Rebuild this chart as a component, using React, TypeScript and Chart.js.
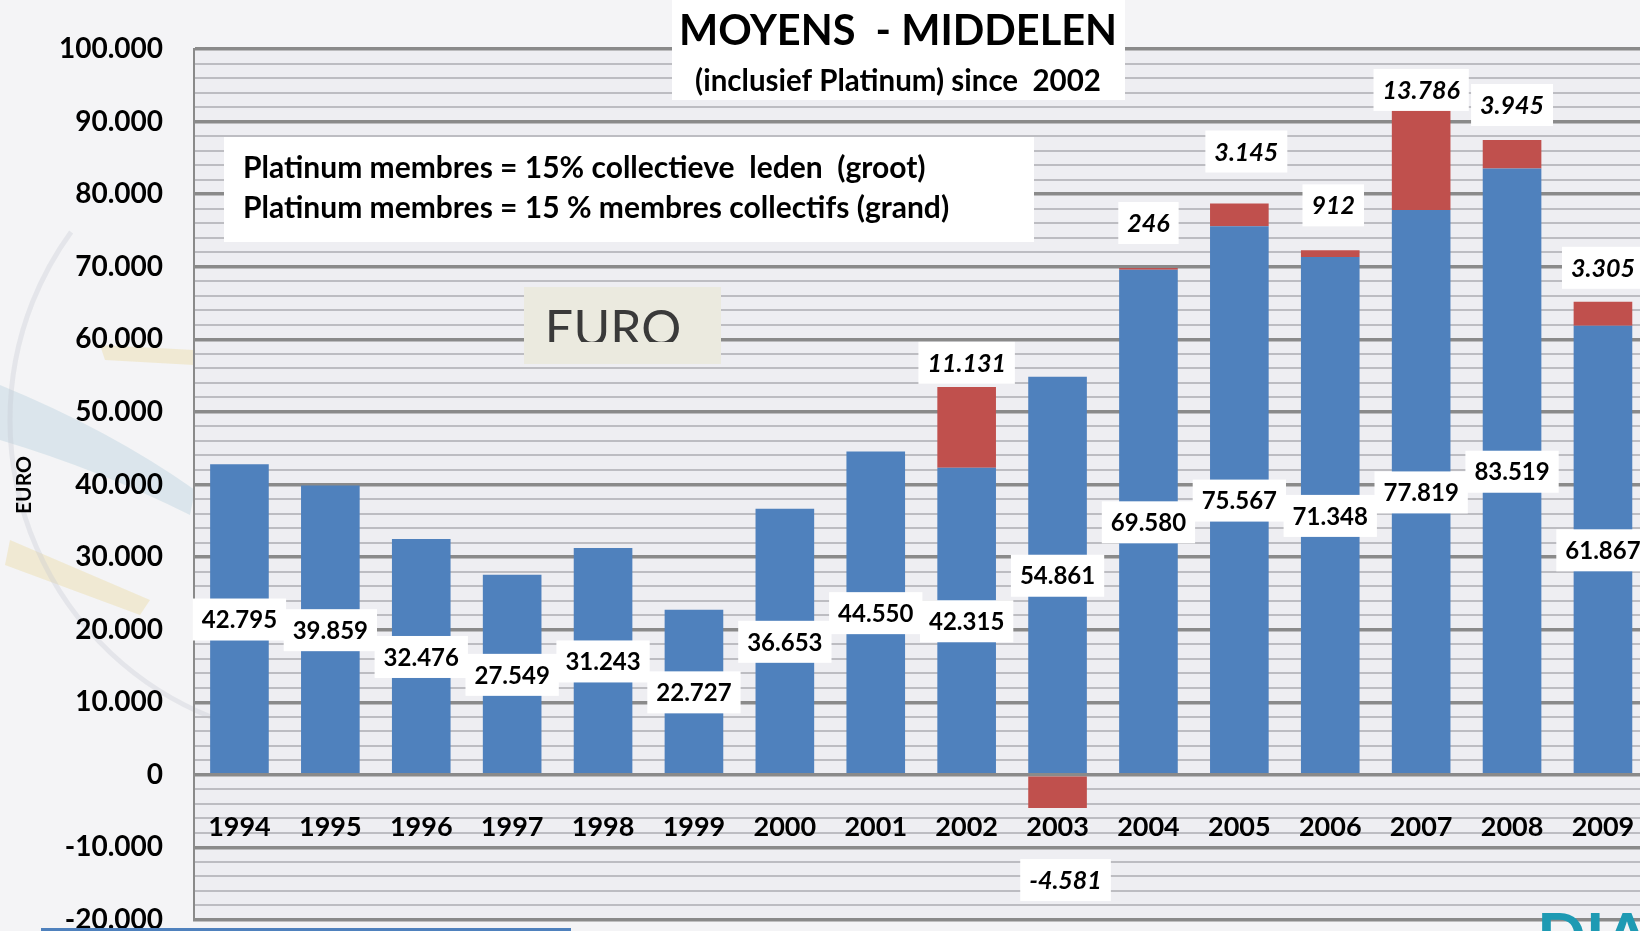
import React, { useEffect, useRef } from 'react';
import { Chart, registerables } from 'chart.js';

Chart.register(...registerables);

// ---------- data ----------
const years = ['1994', '1995', '1996', '1997', '1998', '1999', '2000', '2001', '2002', '2003', '2004', '2005', '2006', '2007', '2008', '2009'];
const middelen = [42795, 39859, 32476, 27549, 31243, 22727, 36653, 44550, 42315, 54861, 69580, 75567, 71348, 77819, 83519, 61867];
const platinum = [null, null, null, null, null, null, null, null, 11131, -4581, 246, 3145, 912, 13786, 3945, 3305];
const yTickValues = [100000, 90000, 80000, 70000, 60000, 50000, 40000, 30000, 20000, 10000, 0, -10000, -20000];
const yTickLabels = ['100.000', '90.000', '80.000', '70.000', '60.000', '50.000', '40.000', '30.000', '20.000', '10.000', '0', '-10.000', '-20.000'];
const titleText = 'MOYENS  - MIDDELEN';
const subtitleText = '(inclusief Platinum) since  2002';
const noteLines = ['Platinum membres = 15% collectieve  leden  (groot)', 'Platinum membres = 15 % membres collectifs (grand)'];
const boxWord = 'EURO';
const axisTitle = 'EURO';
const logoText = 'DIA';

// label placement styling (px offsets of the platinum labels from the bar end)
const platinumLift = [0, 0, 0, 0, 0, 0, 0, 0, 24, 72, 45, 52, 45, 20, 35, 34];
const platinumShift = [0, 0, 0, 0, 0, 0, 0, 0, 0, 8, 0, 7, 3, 0, 0, 0];

const CANVAS_W = 1660;
const CANVAS_H = 931;
const FONT = 'Lato, "Open Sans", "DejaVu Sans", sans-serif';
const BLUE = '#4f81bd';
const RED = '#c0504d';

function fmt(n: number): string {
  const s = Math.abs(Math.round(n)).toString().replace(/\B(?=(\d{3})+(?!\d))/g, '.');
  return (n < 0 ? '-' : '') + s;
}

function boxedText(ctx: CanvasRenderingContext2D, text: string, cx: number, cy: number, font: string) {
  ctx.font = font;
  const w = ctx.measureText(text).width;
  ctx.fillStyle = '#ffffff';
  ctx.fillRect(cx - w / 2 - 9, cy - 21, w + 18, 42);
  ctx.fillStyle = '#000000';
  ctx.textAlign = 'center';
  ctx.textBaseline = 'middle';
  ctx.fillText(text, cx, cy + 1);
}

const decorPlugin = {
  id: 'decor',
  beforeDraw(chart: any) {
    const { ctx, width, height, chartArea } = chart;
    ctx.save();
    ctx.fillStyle = '#f4f4f6';
    ctx.fillRect(0, 0, width, height);
    ctx.fillStyle = '#eeeef2';
    ctx.fillRect(chartArea.left, chartArea.top, chartArea.right - chartArea.left, chartArea.bottom - chartArea.top);
    // faint background artwork on the left
    ctx.globalAlpha = 0.32;
    ctx.fillStyle = '#a9c8d8';
    ctx.beginPath();
    ctx.moveTo(0, 385); ctx.quadraticCurveTo(110, 430, 195, 490); ctx.lineTo(190, 515); ctx.quadraticCurveTo(100, 470, 0, 440); ctx.closePath();
    ctx.fill();
    ctx.fillStyle = '#e8d48a';
    ctx.beginPath();
    ctx.moveTo(10, 540); ctx.lineTo(150, 600); ctx.lineTo(140, 615); ctx.lineTo(5, 565); ctx.closePath();
    ctx.fill();
    ctx.beginPath();
    ctx.moveTo(100, 345); ctx.lineTo(194, 350); ctx.lineTo(194, 365); ctx.lineTo(105, 360); ctx.closePath();
    ctx.fill();
    ctx.strokeStyle = '#c4c7d0';
    ctx.lineWidth = 5;
    ctx.beginPath();
    ctx.arc(330, 420, 320, Math.PI * 0.62, Math.PI * 1.2);
    ctx.stroke();
    ctx.restore();
  },
  beforeDatasetsDraw(chart: any) {
    const ctx: CanvasRenderingContext2D = chart.ctx;
    ctx.save();
    // white title panel
    ctx.fillStyle = '#ffffff';
    ctx.fillRect(672, 0, 453, 100);
    // note panel
    ctx.fillRect(224, 137, 810, 105);
    // EURO panel
    ctx.fillStyle = '#ebeadf';
    ctx.fillRect(524, 287, 197, 77);
    ctx.save();
    ctx.beginPath();
    ctx.rect(524, 287, 197, 55);
    ctx.clip();
    ctx.fillStyle = '#3a3a3a';
    ctx.font = `400 50px ${FONT}`;
    ctx.textAlign = 'center';
    ctx.textBaseline = 'alphabetic';
    ctx.fillText(boxWord, 613, 346);
    ctx.restore();

    ctx.fillStyle = '#000000';
    ctx.textAlign = 'center';
    ctx.textBaseline = 'middle';
    ctx.font = `700 41.5px ${FONT}`;
    ctx.fillText(titleText, 898, 32);
    ctx.font = `700 29.5px ${FONT}`;
    ctx.fillText(subtitleText, 898, 81);

    ctx.textAlign = 'left';
    ctx.font = `700 30px ${FONT}`;
    ctx.fillText(noteLines[0], 243, 168);
    ctx.fillText(noteLines[1], 243, 208);
    ctx.restore();
  },
  afterDatasetsDraw(chart: any) {
    const ctx: CanvasRenderingContext2D = chart.ctx;
    const xs = chart.scales.x;
    const ys = chart.scales.y;
    ctx.save();
    // category labels inside the plot
    ctx.fillStyle = '#000000';
    ctx.textAlign = 'center';
    ctx.textBaseline = 'middle';
    ctx.font = `700 27px ${FONT}`;
    years.forEach((y, i) => {
      ctx.fillText(y, xs.getPixelForValue(i), ys.getPixelForValue(-7200));
    });
    // value labels of the blue series
    middelen.forEach((v, i) => {
      boxedText(ctx, fmt(v), xs.getPixelForValue(i), ys.getPixelForValue(v / 2), `700 24px ${FONT}`);
    });
    // platinum labels
    platinum.forEach((v, i) => {
      if (v === null) return;
      const end = v >= 0 ? ys.getPixelForValue(middelen[i] + v) : ys.getPixelForValue(v);
      const cy = v >= 0 ? end - platinumLift[i] : end + platinumLift[i];
      boxedText(ctx, fmt(v), xs.getPixelForValue(i) + platinumShift[i], cy, `italic 700 25px ${FONT}`);
    });
    // y axis title
    ctx.save();
    ctx.translate(24, 485);
    ctx.rotate(-Math.PI / 2);
    ctx.font = `700 21px ${FONT}`;
    ctx.fillStyle = '#000000';
    ctx.textAlign = 'center';
    ctx.textBaseline = 'middle';
    ctx.fillText(axisTitle, 0, 0);
    ctx.restore();
    // bottom decorations
    ctx.fillStyle = BLUE;
    ctx.fillRect(41, 928, 530, 3);
    ctx.fillStyle = '#1e9ab3';
    ctx.font = `700 64px ${FONT}`;
    ctx.textAlign = 'left';
    ctx.textBaseline = 'alphabetic';
    ctx.fillText(logoText, 1537, 959);
    ctx.restore();
  },
};

export default function App() {
  const canvasRef = useRef<HTMLCanvasElement | null>(null);

  useEffect(() => {
    const canvas = canvasRef.current;
    if (!canvas) return;
    const chart = new Chart(canvas, {
      type: 'bar',
      data: {
        labels: years,
        datasets: [
          { label: 'Middelen', data: middelen, backgroundColor: BLUE, barPercentage: 0.645, categoryPercentage: 1 },
          { label: 'Platinum', data: platinum as any, backgroundColor: RED, barPercentage: 0.645, categoryPercentage: 1 },
        ],
      },
      options: {
        responsive: false,
        animation: false,
        events: [],
        layout: { autoPadding: false, padding: { top: 49, bottom: 11, left: 0, right: CANVAS_W - 1648.4 } },
        plugins: { legend: { display: false }, tooltip: { enabled: false }, title: { display: false } },
        scales: {
          x: { stacked: true, display: false, offset: true, grid: { display: false } },
          y: {
            stacked: true,
            min: -20000,
            max: 100000,
            afterFit: (s: any) => {
              s.width = 194;
              s.paddingTop = 0;
              s.paddingBottom = 0;
            },
            ticks: {
              stepSize: 2000,
              autoSkip: false,
              padding: 31,
              color: '#000000',
              font: { family: FONT, size: 28, weight: 'bold' },
              callback: (val: any) => {
                const idx = yTickValues.indexOf(Number(val));
                return idx >= 0 ? yTickLabels[idx] : '';
              },
            },
            grid: {
              drawTicks: false,
              color: (c: any) => (c.tick && c.tick.value % 10000 === 0 ? '#8a8a8a' : '#bdbdc2'),
              lineWidth: (c: any) => (c.tick && c.tick.value % 10000 === 0 ? 3.5 : 2),
            },
            border: { display: true, color: '#8a8a8a', width: 2 },
          },
        },
      },
      plugins: [decorPlugin],
    });
    return () => chart.destroy();
  }, []);

  return (
    <div style={{ position: 'fixed', left: 0, top: 0, width: 1640, height: 931, overflow: 'hidden', background: '#f4f4f6' }}>
      <canvas ref={canvasRef} width={CANVAS_W} height={CANVAS_H} style={{ display: 'block', width: CANVAS_W, height: CANVAS_H }} />
    </div>
  );
}
